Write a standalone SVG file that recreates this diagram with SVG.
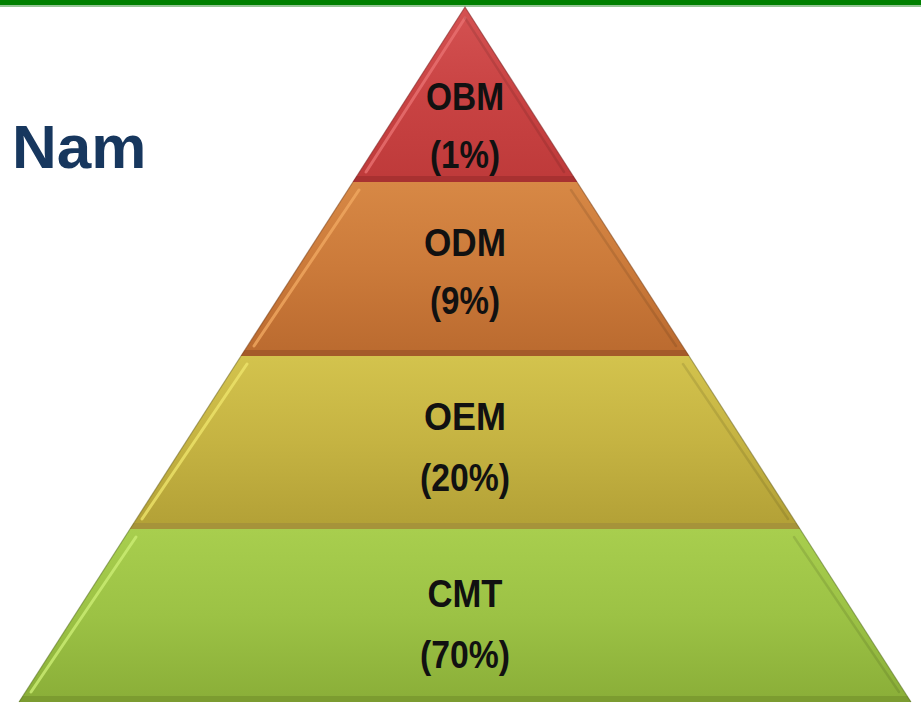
<svg xmlns="http://www.w3.org/2000/svg" width="921" height="708" viewBox="0 0 921 708">
  <style>
    .lbl { font-family: "Liberation Sans", Arial, sans-serif; font-weight: bold; font-size: 39px; fill: #111; text-anchor: middle; }
    .title { font-family: "Liberation Sans", Arial, sans-serif; font-weight: bold; font-size: 62px; fill: #17375E; }
    .hi { fill: none; stroke-opacity: 0.8; stroke-width: 3; stroke-linecap: round; }
    .sh { fill: none; stroke: #000000; stroke-opacity: 0.1; stroke-width: 2.5; stroke-linecap: round; }
    .edge { fill: none; stroke-opacity: 0.55; stroke-width: 1.2; }
  </style>
  <defs>
    <linearGradient id="gRed" x1="0" y1="0" x2="0" y2="1">
      <stop offset="0" stop-color="#D45252"/>
      <stop offset="0.5" stop-color="#C94343"/>
      <stop offset="1" stop-color="#BE3A3A"/>
    </linearGradient>
    <linearGradient id="gOrange" x1="0" y1="0" x2="0" y2="1">
      <stop offset="0" stop-color="#D78845"/>
      <stop offset="0.5" stop-color="#CB7A3A"/>
      <stop offset="1" stop-color="#BA6A2F"/>
    </linearGradient>
    <linearGradient id="gYellow" x1="0" y1="0" x2="0" y2="1">
      <stop offset="0" stop-color="#D3C34D"/>
      <stop offset="0.5" stop-color="#C5B342"/>
      <stop offset="1" stop-color="#B2A036"/>
    </linearGradient>
    <linearGradient id="gGreen" x1="0" y1="0" x2="0" y2="1">
      <stop offset="0" stop-color="#A8CE4E"/>
      <stop offset="0.5" stop-color="#9CC245"/>
      <stop offset="1" stop-color="#8AAE38"/>
    </linearGradient>
  </defs>

  <rect width="921" height="708" fill="#ffffff"/>

  <!-- top rule -->
  <rect x="0" y="0" width="921" height="5" fill="#008000"/>
  <rect x="0" y="5.5" width="921" height="1" fill="#2E8B2E"/>

  <text class="title" x="12" y="168">Nam</text>

  <!-- pyramid tiers, top to bottom -->
  <g id="tier-obm">
    <polygon points="465,7 577,182 353,182" fill="url(#gRed)"/>
    <polygon points="357,176 573,176 577,182 353,182" fill="#A83131"/>
    <polyline class="edge" stroke="#7A2020" points="353,182 465,7 577,182"/>
    <polyline class="hi" stroke="#E87070" points="465,18 366,172"/>
    <polyline class="sh" points="465,18 564,172"/>
    <text class="lbl" x="465" y="110" textLength="78" lengthAdjust="spacingAndGlyphs">OBM</text>
    <text class="lbl" x="465" y="168" textLength="70" lengthAdjust="spacingAndGlyphs">(1%)</text>
  </g>

  <g id="tier-odm">
    <polygon points="353,182 577,182 689,356 241,356" fill="url(#gOrange)"/>
    <polygon points="245,350 685,350 689,356 241,356" fill="#A45A29"/>
    <polyline class="edge" stroke="#7A4018" points="241,356 353,182"/>
    <polyline class="edge" stroke="#7A4018" points="577,182 689,356"/>
    <polyline class="hi" stroke="#F0A860" points="359,190 254,346"/>
    <polyline class="sh" points="571,190 676,346"/>
    <text class="lbl" x="465" y="256" textLength="82" lengthAdjust="spacingAndGlyphs">ODM</text>
    <text class="lbl" x="465" y="314" textLength="70" lengthAdjust="spacingAndGlyphs">(9%)</text>
  </g>

  <g id="tier-oem">
    <polygon points="241,356 689,356 800,529 130,529" fill="url(#gYellow)"/>
    <polygon points="134,523 796,523 800,529 130,529" fill="#A6933A"/>
    <polyline class="edge" stroke="#6E6420" points="130,529 241,356"/>
    <polyline class="edge" stroke="#6E6420" points="689,356 800,529"/>
    <polyline class="hi" stroke="#EEE46A" points="247,364 142,519"/>
    <polyline class="sh" points="683,364 788,519"/>
    <text class="lbl" x="465" y="430" textLength="82" lengthAdjust="spacingAndGlyphs">OEM</text>
    <text class="lbl" x="465" y="491" textLength="90" lengthAdjust="spacingAndGlyphs">(20%)</text>
  </g>

  <g id="tier-cmt">
    <polygon points="130,529 800,529 911,702 19,702" fill="url(#gGreen)"/>
    <polygon points="23,696 907,696 911,702 19,702" fill="#7C9C30"/>
    <polyline class="edge" stroke="#556E20" points="19,702 130,529"/>
    <polyline class="edge" stroke="#556E20" points="800,529 911,702"/>
    <polyline class="hi" stroke="#CCEE74" points="136,537 31,692"/>
    <polyline class="sh" points="794,537 899,692"/>
    <text class="lbl" x="465" y="607" textLength="75" lengthAdjust="spacingAndGlyphs">CMT</text>
    <text class="lbl" x="465" y="668" textLength="90" lengthAdjust="spacingAndGlyphs">(70%)</text>
  </g>

  <g id="connectors"/>
</svg>
